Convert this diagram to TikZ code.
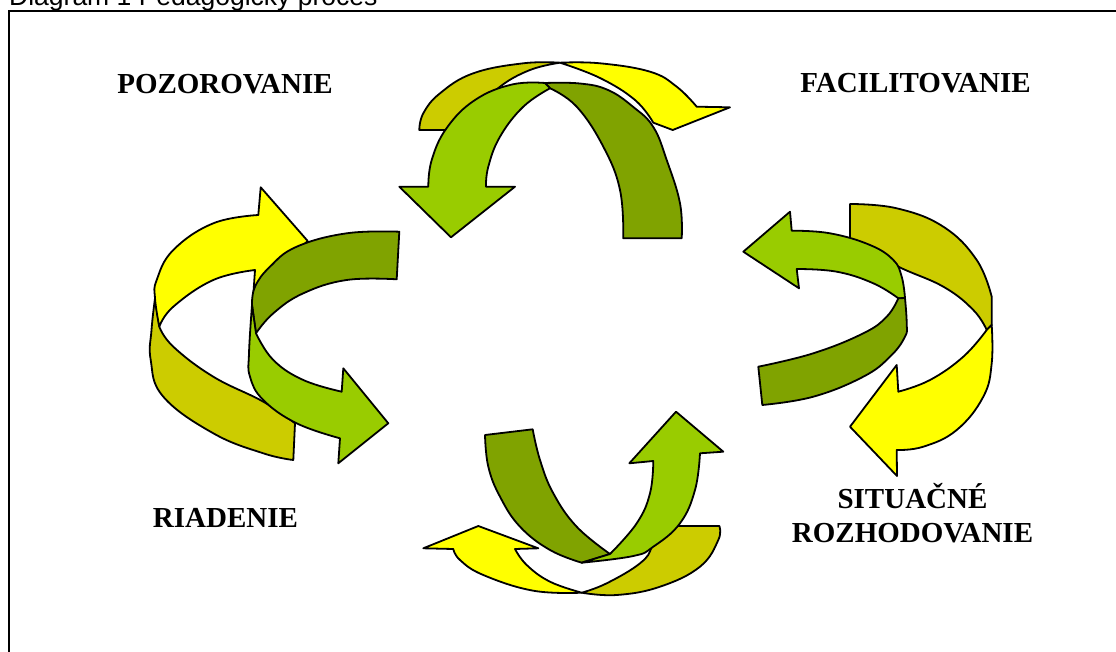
\documentclass[tikz,border=0pt]{standalone}
\usepackage{fontspec}
\setmainfont{Liberation Serif}
\newfontfamily\capfont{Liberation Sans}
\definecolor{yel}{RGB}{255,255,0}
\definecolor{olyel}{RGB}{204,204,0}
\definecolor{ltgreen}{RGB}{153,204,0}
\definecolor{olgreen}{RGB}{128,163,0}

\begin{document}
\begin{tikzpicture}[x=1pt, y=-1pt,
    ribbon/.style={draw=black, line width=1.8pt, line join=round},
    ribcurve/.style={smooth, tension=0.7},
    lbl/.style={font=\fontsize{29}{34}\selectfont\bfseries, inner sep=0pt, anchor=base},
    capt/.style={font=\capfont\fontsize{26.5}{30}\selectfont, inner sep=0pt, anchor=base west}]
    \useasboundingbox (0,0) rectangle (1116,652);
    \draw[line width=2pt] (1116,11) -- (8.5,11) -- (8.5,652);
    \node[capt] (capt) at (9,5.5) {Diagram 1 Pedagogický proces};
    % left pair
    \filldraw[ribbon, fill=olyel] plot[ribcurve] coordinates {(155,298.3) (151.5,330) (150.7,360) (163.3,396.7) (213.3,433.3) (263.3,453.3) (293.3,460)} -- (295,423.3) -- plot[ribcurve] coordinates {(295,423.3) (263.3,401.7) (213.3,376.7) (173.3,346.7) (159.3,326.7)} -- cycle;
    \filldraw[ribbon, fill=yel] plot[ribcurve] coordinates {(159.3,326.7) (155,298.3) (156.7,280) (173.3,250) (213.3,223.3) (258.3,215)} -- (260.7,187.3) -- (307.7,241) -- (253.3,295) -- (255,270) -- plot[ribcurve] coordinates {(255,270) (213.3,280) (173.3,306.7) (159.3,326.7)} -- cycle;
    \filldraw[ribbon, fill=olgreen] plot[ribcurve] coordinates {(399.3,231.7) (346.7,233.3) (296.7,246.7) (270,266.7) (255,286.7) (252,305)} -- (256,333.3) -- plot[ribcurve] coordinates {(256,333.3) (273.3,313.3) (303.3,293.3) (346.7,280) (396.7,279.3)} -- cycle;
    \filldraw[ribbon, fill=ltgreen] plot[ribcurve] coordinates {(256,333.3) (273.3,360) (303.3,380) (341.7,391.7)} -- (343.3,368.3) -- (388.3,423.3) -- (338.3,463.3) -- (340,438.3) -- plot[ribcurve] coordinates {(340,438.3) (296.7,423.3) (263.3,400) (250,376.7) (249,353.3) (252,305)} -- cycle;
    % top pair
    \filldraw[ribbon, fill=olyel] plot[ribcurve] coordinates {(419.3,130) (423.3,113.3) (440,93.3) (473.3,73.3) (523.3,63.3) (560,62.7)} -- plot[ribcurve] coordinates {(560,62.7) (530,70) (500,86.7) (483.3,106.7) (473.3,130)} -- cycle;
    \filldraw[ribbon, fill=yel] plot[ribcurve] coordinates {(560,62.7) (600,63.3) (650,71.7) (676.7,86.7) (696.7,106.7)} -- (730,107.3) -- (672.7,130) -- (653.3,122.7) -- plot[ribcurve] coordinates {(653.3,122.7) (635,100) (600,78) (560,62.7)} -- cycle;
    \filldraw[ribbon, fill=olgreen] plot[ribcurve] coordinates {(545,83) (580,83.5) (608,90) (633.3,107) (653.3,127) (666.7,160) (680,203.3) (681.7,238.3)} -- (623.3,238.3) -- plot[ribcurve] coordinates {(623.3,238.3) (620,190) (603.3,146.7) (576.7,106.7) (550,88.3)} -- cycle;
    \filldraw[ribbon, fill=ltgreen] plot[ribcurve] coordinates {(550,88.3) (523.3,106.7) (500,136.7) (488.3,166.7) (486,186.7)} -- (515,186.7) -- (451,237.3) -- (399.3,186.7) -- (428.3,186.7) -- plot[ribcurve] coordinates {(428.3,186.7) (431.7,160) (446.7,128) (475,100) (512,84.5) (545,83)} -- cycle;
    % right pair
    \filldraw[ribbon, fill=olyel] plot[ribcurve] coordinates {(850,204) (896.7,208.3) (943.3,226.7) (976.7,260) (991.7,296.7)} -- (991.7,325) -- (986.7,330) -- plot[ribcurve] coordinates {(986.7,330) (973.3,310) (943.3,286.7) (895,265) (850,238.3)} -- cycle;
    \filldraw[ribbon, fill=yel] (986.7,330) -- plot[ribcurve] coordinates {(991.7,325) (991.7,363.3) (983.3,396.7) (956.7,430) (923.3,446.7) (896.7,450)} -- (897,476) -- (850,426.7) -- (896.7,365) -- (898.3,391.7) -- plot[ribcurve] coordinates {(898.3,391.7) (930,380) (963.3,356.7) (986.7,330)} -- cycle;
    \filldraw[ribbon, fill=ltgreen] plot[ribcurve] coordinates {(898.3,298.3) (873.3,283.3) (836.7,271.7) (796.7,269)} -- (799,288.3) -- (743.3,251.7) -- (790,211.7) -- (791.7,230.7) -- plot[ribcurve] coordinates {(791.7,230.7) (830,233.3) (870,245) (893.3,260) (901.7,276.7) (905,298)} -- cycle;
    \filldraw[ribbon, fill=olgreen] (898.3,298.3) -- plot[ribcurve] coordinates {(905,298) (906.7,323.3) (905,336.7) (890,356.7) (863.3,376.7) (813.3,396.7) (762.3,405)} -- (758.3,366.7) -- plot[ribcurve] coordinates {(758.3,366.7) (813.3,353.3) (863.3,333.3) (886.7,316.7) (898.3,298.3)} -- cycle;
    % bottom pair
    \filldraw[ribbon, fill=yel] plot[ribcurve] coordinates {(581.7,592.7) (533.3,590.7) (483.3,575) (460,560) (453.3,549)} -- (423.3,548.3) -- (478.3,526) -- (538.3,548.3) -- (515,549) -- plot[ribcurve] coordinates {(515,549) (526.7,565) (550,581.7) (581.7,592.7)} -- cycle;
    \filldraw[ribbon, fill=olyel] plot[ribcurve] coordinates {(581.7,592.7) (616.7,595) (660,586.7) (700,566.7) (718.3,540) (719.3,526)} -- (653.3,526) -- plot[ribcurve] coordinates {(653.3,526) (651.7,546.7) (640,563.3) (606.7,583.3) (581.7,592.7)} -- cycle;
    \filldraw[ribbon, fill=olgreen] (485,435) -- plot[ribcurve] coordinates {(532.7,429.3) (540,460) (553.3,493.3) (576.7,526.7) (610,554)} -- (581.7,562.7) -- plot[ribcurve] coordinates {(581.7,562.7) (550,550) (520,526.7) (500,496.7) (488.3,466.7) (485,435)} -- cycle;
    \filldraw[ribbon, fill=ltgreen] (610,554) -- plot[ribcurve] coordinates {(581.7,562.7) (633.3,556) (653.3,546.7) (680,523.3) (695,490) (700,453.3)} -- (723.3,451.7) -- (676,411.7) -- (629.3,463.3) -- (653.3,461) -- plot[ribcurve] coordinates {(653.3,461) (650,493.3) (636.7,523.3) (610,554)} -- cycle;
    % labels
    \node[lbl] (pozor) at (225,93.5) {POZOROVANIE};
    \node[lbl] (facil) at (915.5,93) {FACILITOVANIE};
    \node[lbl] (riad) at (225.5,527) {RIADENIE};
    \node[lbl] (situ) at (912.5,508) {SITUAČNÉ};
    \node[lbl] (rozh) at (912.5,542) {ROZHODOVANIE};
\end{tikzpicture}
\end{document}
